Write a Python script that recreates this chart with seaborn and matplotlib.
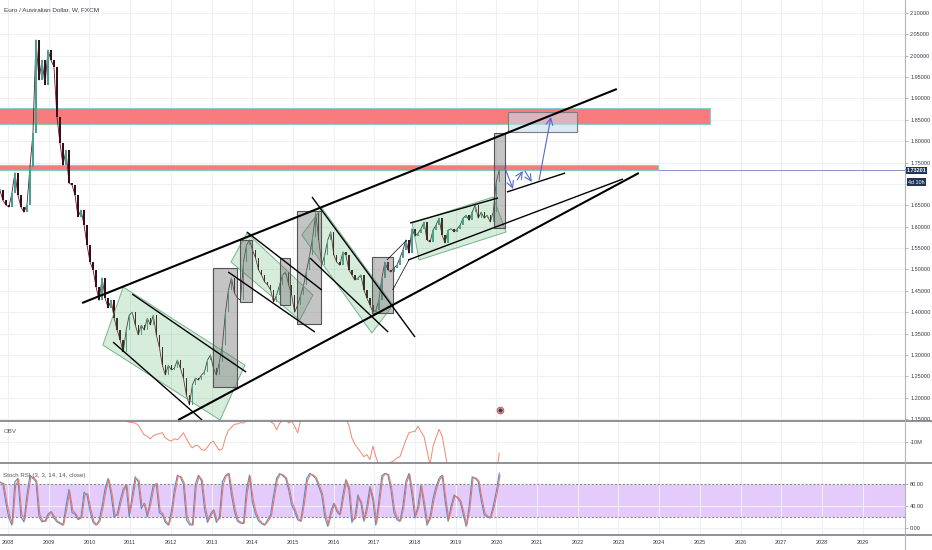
import numpy as np
import pandas as pd
import matplotlib
matplotlib.use("Agg")
import matplotlib.pyplot as plt
import seaborn as sns
from matplotlib.patches import Polygon, Rectangle
from matplotlib.lines import Line2D

start_date = "2007-10-20"
step_days = 27

close = [1.686, 1.662, 1.651, 1.646, 1.679, 1.726, 1.674, 1.646, 1.634, 1.651,
         1.740, 1.819, 2.037, 1.943, 1.990, 1.932, 2.013, 1.990, 1.974, 1.857,
         1.796, 1.744, 1.779, 1.702, 1.698, 1.674, 1.623, 1.639, 1.604, 1.557,
         1.517, 1.499, 1.459, 1.428, 1.480, 1.433, 1.410, 1.428, 1.386, 1.358,
         1.335, 1.307, 1.358, 1.393, 1.400, 1.370, 1.347, 1.370, 1.358, 1.386,
         1.370, 1.393, 1.347, 1.319, 1.276, 1.253, 1.276, 1.265, 1.269, 1.288,
         1.269, 1.246, 1.206, 1.183, 1.230, 1.246, 1.241, 1.253, 1.260, 1.288,
         1.300, 1.269, 1.253, 1.283, 1.323, 1.400, 1.452, 1.480, 1.445, 1.433,
         1.428, 1.517, 1.557, 1.569, 1.545, 1.527, 1.499, 1.487, 1.471, 1.464,
         1.452, 1.424, 1.440, 1.464, 1.487, 1.494, 1.464, 1.440, 1.400, 1.417,
         1.440, 1.464, 1.499, 1.534, 1.576, 1.632, 1.569, 1.510, 1.534, 1.569,
         1.588, 1.534, 1.517, 1.510, 1.541, 1.534, 1.499, 1.487, 1.475, 1.480,
         1.487, 1.452, 1.433, 1.417, 1.400, 1.405, 1.428, 1.480, 1.517, 1.499,
         1.494, 1.504, 1.510, 1.527, 1.545, 1.569, 1.538, 1.595, 1.578, 1.585,
         1.595, 1.611, 1.569, 1.564, 1.592, 1.604, 1.620, 1.580, 1.562, 1.592,
         1.595, 1.588, 1.595, 1.604, 1.620, 1.627, 1.615, 1.634, 1.651, 1.620,
         1.634, 1.620, 1.627, 1.611, 1.634, 1.705, 1.732]

# on balance volume, millions
obv = [-1.0, -1.2, -1.5, -1.1, -0.8, -0.5, -0.2, 0.5, 1.2, 1.5,
       2.0, 2.4, 3.0, 2.8, 2.5, 2.0, 1.5, 1.0, 0.4, -0.2,
       -0.5, -0.8, -1.0, -1.2, -1.5, -1.8, -2.0, -2.2, -2.5, -2.6,
       -2.8, -3.0, -3.1, -3.3, -3.5, -3.6, -3.8, -4.0, -4.1, -4.2,
       -4.3, -4.5, -5.0, -5.3, -5.4, -5.5, -6.0, -7.2, -8.3, -8.6,
       -9.3, -8.5, -8.2, -8.0, -7.8, -9.0, -9.5, -9.8, -9.2, -9.5,
       -8.8, -7.8, -9.2, -10.5, -11.4, -10.8, -10.9, -11.8, -12.0, -11.2,
       -10.2, -9.8, -11.0, -12.0, -11.6, -9.0, -7.2, -6.5, -5.8, -5.7,
       -5.4, -5.5, -5.0, -4.8, -4.5, -4.2, -4.6, -4.0, -4.3, -4.5,
       -5.2, -5.6, -7.1, -5.5, -5.0, -4.5, -5.5, -5.0, -6.3, -7.8,
       -4.8, -3.5, -3.0, -2.6, -2.2, -2.0, -1.8, -2.0, -2.2, -2.5,
       -2.8, -3.0, -3.2, -3.5, -4.0, -4.5, -6.0, -9.0, -10.5, -11.5,
       -12.5, -13.5, -13.0, -14.2, -11.0, -13.5, -15.5, -15.8, -15.6, -15.2,
       -14.8, -14.5, -13.8, -13.5, -11.5, -9.5, -7.8, -7.6, -7.5, -6.2,
       -7.6, -8.7, -12.0, -15.5, -11.0, -9.0, -7.0, -8.5, -12.5, -16.5,
       -17.0, -17.5, -18.0, -18.2, -18.5, -18.8, -19.0, -18.6, -18.4, -18.8,
       -19.0, -19.2, -19.0, -18.8, -18.5, -18.0, -12.6]

stoch_k = [84, 80, 45, 18, 5, 84, 90, 20, 11, 60,
           96, 90, 84, 20, 11, 13, 25, 30, 18, 11,
           8, 5, 40, 70, 28, 25, 15, 20, 65, 60,
           30, 10, 5, 14, 40, 72, 90, 60, 20, 25,
           50, 70, 78, 20, 60, 93, 84, 35, 45, 20,
           50, 78, 80, 28, 24, 10, 5, 30, 70, 96,
           92, 80, 15, 6, 5, 80, 96, 85, 35, 10,
           25, 33, 10, 20, 84, 95, 99, 60, 30, 12,
           9, 8, 70, 96, 45, 25, 13, 8, 5, 15,
           24, 60, 90, 99, 95, 90, 70, 42, 30, 15,
           12, 50, 90, 99, 95, 90, 75, 60, 20, 3,
           30, 45, 30, 24, 60, 88, 70, 10, 20, 60,
           45, 12, 40, 75, 50, 5, 50, 95, 99, 96,
           70, 28, 15, 12, 40, 85, 99, 60, 18, 40,
           78, 40, 5, 20, 54, 75, 90, 96, 50, 12,
           40, 60, 55, 48, 25, 3, 40, 93, 90, 84,
           50, 24, 20, 18, 40, 66, 100]

stoch_d = [82, 81, 50, 22, 8, 78, 88, 26, 14, 55,
           92, 92, 85, 25, 13, 12, 23, 29, 20, 12,
           9, 6, 35, 66, 32, 26, 16, 19, 60, 62,
           34, 12, 6, 12, 36, 68, 88, 64, 24, 23,
           46, 68, 78, 26, 55, 90, 86, 40, 43, 24,
           46, 75, 81, 32, 25, 12, 6, 27, 66, 94,
           93, 82, 20, 8, 6, 75, 94, 87, 40, 12,
           23, 32, 13, 18, 79, 94, 99, 64, 34, 14,
           10, 9, 64, 94, 50, 28, 15, 9, 6, 13,
           22, 55, 88, 98, 96, 91, 72, 46, 32, 17,
           13, 45, 86, 98, 96, 91, 77, 62, 25, 5,
           27, 44, 32, 25, 56, 86, 72, 14, 18, 56,
           47, 15, 36, 72, 53, 8, 46, 92, 99, 97,
           73, 32, 17, 13, 36, 82, 98, 64, 22, 37,
           75, 44, 8, 18, 50, 72, 88, 95, 54, 15,
           37, 58, 56, 49, 28, 5, 36, 90, 91, 85,
           54, 27, 21, 19, 37, 62, 96]

last_price = 1.73201
years = list(range(2008, 2030))
price_ticks = [1.15, 1.20, 1.25, 1.30, 1.35, 1.40, 1.45, 1.50, 1.55, 1.60,
               1.65, 1.70, 1.75, 1.80, 1.85, 1.90, 1.95, 2.00, 2.05, 2.10]
hidden_ticks = [1.70]  # covered by the countdown label on the price scale

# resistance zones: (year from, year to, low, high)
zones = [(2007.0, 2025.25, 1.8403, 1.8777),
         (2007.0, 2023.97, 1.7330, 1.7450)]

# trend lines: ((year, price), (year, price), width)
trend_lines = [((2009.82, 1.4215), (2022.96, 1.9222), 1.5),
               ((2012.18, 1.1477), (2023.50, 1.7256), 1.5),
               ((2017.83, 1.5221), (2023.11, 1.7116), 1.0),
               ((2020.26, 1.6812), (2021.69, 1.7256), 1.0),
               ((2017.88, 1.6087), (2020.04, 1.6672), 1.0),
               ((2015.47, 1.6695), (2018.00, 1.3419), 1.0),
               ((2015.42, 1.5268), (2017.34, 1.3536), 1.0),
               ((2013.87, 1.5876), (2015.71, 1.4519), 1.0),
               ((2013.41, 1.4940), (2015.54, 1.3536), 1.0),
               ((2011.05, 1.4425), (2013.85, 1.2600), 1.0),
               ((2010.58, 1.3302), (2012.77, 1.1477), 1.0),
               ((2017.31, 1.5221), (2017.80, 1.5689), 0.5),
               ((2017.45, 1.4520), (2017.85, 1.5220), 0.5)]

# channel boxes (parallelograms)
channels = [[(2010.33, 1.3232), (2010.83, 1.4589), (2013.82, 1.2764), (2013.21, 1.1477)],
            [(2013.48, 1.5174), (2013.87, 1.5853), (2015.49, 1.4402), (2015.17, 1.3817)],
            [(2015.22, 1.5806), (2015.71, 1.6438), (2017.46, 1.4168), (2016.94, 1.3513)],
            [(2017.93, 1.6087), (2019.92, 1.6695), (2020.24, 1.5876), (2018.10, 1.5221)]]

# grey boxes: (year0, year1, low, high)
boxes = [(2013.04, 2013.63, 1.2249, 1.5034),
         (2013.70, 2014.00, 1.4238, 1.5689),
         (2014.68, 2014.93, 1.4168, 1.5268),
         (2015.10, 2015.69, 1.3723, 1.6367),
         (2016.94, 2017.46, 1.3981, 1.5291),
         (2019.94, 2020.21, 1.5970, 1.8192)]
target_box = (2020.29, 2021.98, 1.8216, 1.8684)

# projected path arrows
arrows = [((2020.21, 1.7373), (2020.41, 1.6882)),
          ((2020.51, 1.7093), (2020.65, 1.7303)),
          ((2020.70, 1.7303), (2020.87, 1.7046)),
          ((2021.05, 1.7093), (2021.34, 1.8567))]


def year_axis(n, lag_days=0):
    d = pd.date_range(pd.Timestamp(start_date) + pd.Timedelta(days=lag_days),
                      periods=n, freq=f"{step_days}D")
    return np.asarray(d.year + (d.dayofyear - 1) / 365.25)


sns.set_theme(style="white")
plt.rcParams["font.family"] = ["Liberation Sans", "DejaVu Sans"]

grid_c = "#edf0f5"
txt_c = "#363a45"
sep_c = "#7b7e87"
lab_fs = 4.0

fig = plt.figure(figsize=(9.32, 5.5), dpi=100)
ax = fig.add_axes([0, 0.2345, 0.971, 0.7655])
ax_obv = fig.add_axes([0, 0.1582, 0.971, 0.0764], sharex=ax)
ax_rsi = fig.add_axes([0, 0.0273, 0.971, 0.1309], sharex=ax)

# ---- price panel ----
t = year_axis(len(close))
opens = np.array([close[0]] + close[:-1])
closes = np.array(close)
up = closes >= opens
width = step_days / 365.25 * 0.45
sns.lineplot(x=t, y=close, ax=ax, color="#5a1a28", lw=0.6, zorder=3)
ax.bar(t, np.maximum(np.abs(closes - opens), 0.002), bottom=np.minimum(opens, closes),
       width=width, color=np.where(up, "#3fa592", "#3d0c18"), linewidth=0, zorder=3)

ax.axhline(last_price, color="#7282b8", lw=0.6, zorder=1)
for x0, x1, lo, hi in zones:
    ax.add_patch(Rectangle((x0, lo), x1 - x0, hi - lo, fc="#f77b7d", ec="#86cfc6",
                           lw=0.8, zorder=2))

for poly in channels:
    ax.add_patch(Polygon(poly, closed=True, fc=(0.30, 0.69, 0.38, 0.22),
                         ec=(0.30, 0.62, 0.42, 0.75), lw=0.7, zorder=4))
for x0, x1, lo, hi in boxes:
    ax.add_patch(Rectangle((x0, lo), x1 - x0, hi - lo, fc=(0.45, 0.45, 0.45, 0.42),
                           ec="#555555", lw=0.8, zorder=4))
x0, x1, lo, hi = target_box
ax.add_patch(Rectangle((x0, lo), x1 - x0, hi - lo, fc=(0.78, 0.86, 0.92, 0.6),
                       ec="#7d7d7d", lw=0.8, zorder=4))

for (xa, ya), (xb, yb), lw in trend_lines:
    ax.plot([xa, xb], [ya, yb], color="black", lw=lw, solid_capstyle="butt", zorder=5)

for s, e in arrows:
    ax.annotate("", xy=e, xytext=s,
                arrowprops=dict(arrowstyle="->", color="#5468d4", lw=0.8,
                                shrinkA=0, shrinkB=0), zorder=6)

ax.scatter([2020.09], [1.171], s=22, facecolor="white", edgecolor="#d9534f",
           linewidth=0.8, zorder=6)
ax.scatter([2020.09], [1.171], s=5, color="#3d3d5c", zorder=7)

ax.set_xlim(2007.803, 2030.04)
ax.set_ylim(1.1454, 2.1304)
ax.set_xticks(years)
ax.set_yticks(price_ticks)
ax.set_yticklabels(["" if p in hidden_ticks else f"{p:.5f}" for p in price_ticks])
ax.yaxis.tick_right()
ax.set_xlabel("")
ax.set_ylabel("")
ax.grid(True, color=grid_c, lw=0.8)
ax.set_axisbelow(True)
ax.tick_params(axis="y", length=2.5, width=0.5, color="#9598a1", labelcolor=txt_c,
               labelsize=lab_fs, pad=1.2)
ax.tick_params(axis="x", length=0, labelbottom=False)
for sp in ax.spines.values():
    sp.set_visible(False)

ax.text(0.004, 0.976, "Euro / Australian Dollar, W, FXCM", transform=ax.transAxes,
        fontsize=4.6, color=txt_c, va="center", ha="left")

ax.annotate(f"{last_price:.5f}", xy=(1.0, last_price), xycoords=("axes fraction", "data"),
            xytext=(1.2, 0), textcoords="offset points", ha="left", va="center",
            fontsize=lab_fs, fontweight="bold", color="white", annotation_clip=False,
            bbox=dict(boxstyle="square,pad=0.2", fc="#1e3558", ec="none"), zorder=10)
ax.annotate("4d 10h", xy=(1.0, 1.7045), xycoords=("axes fraction", "data"),
            xytext=(2.5, 0), textcoords="offset points", ha="left", va="center",
            fontsize=3.9, color="white", annotation_clip=False,
            bbox=dict(boxstyle="square,pad=0.2", fc="#1e3558", ec="none"), zorder=10)

# ---- OBV panel ----
sns.lineplot(x=year_axis(len(obv)), y=obv, ax=ax_obv, color="#f2876b", lw=0.7)
ax_obv.set_ylim(-15, -5)
ax_obv.set_yticks([-10])
ax_obv.set_yticklabels(["-10M"])
ax_obv.yaxis.tick_right()
ax_obv.grid(True, color=grid_c, lw=0.8)
ax_obv.tick_params(axis="y", length=2.5, width=0.5, color="#9598a1", labelcolor=txt_c,
                   labelsize=lab_fs, pad=1.2)
ax_obv.tick_params(axis="x", length=0, labelbottom=False)
ax_obv.set_ylabel("")
for sp in ax_obv.spines.values():
    sp.set_visible(False)
ax_obv.text(0.004, 0.74, "OBV", transform=ax_obv.transAxes, fontsize=4.4,
            color="#555", va="center")

# ---- Stoch RSI panel ----
ax_rsi.axhspan(20, 80, color="#e4cbfb", lw=0, zorder=0)
for lvl in (80, 20):
    ax_rsi.axhline(lvl, color="#8a8a8a", lw=0.8, ls=(0, (2, 1.5)), zorder=1)
sns.lineplot(x=year_axis(len(stoch_k)), y=stoch_k, ax=ax_rsi, color="#4a8fe0", lw=0.8)
sns.lineplot(x=year_axis(len(stoch_d), 7), y=stoch_d, ax=ax_rsi, color="#f0765a", lw=0.8)
ax_rsi.set_ylim(-12.7, 118)
ax_rsi.set_yticks([0, 40, 80])
ax_rsi.set_yticklabels(["0.00", "40.00", "80.00"])
ax_rsi.yaxis.tick_right()
ax_rsi.set_xticks(years)
ax_rsi.set_xticklabels([str(y) for y in years])
ax_rsi.grid(True, color=grid_c, lw=0.8)
ax_rsi.set_axisbelow(True)
ax_rsi.tick_params(axis="y", length=2.5, width=0.5, color="#9598a1", labelcolor=txt_c,
                   labelsize=lab_fs, pad=1.2)
ax_rsi.tick_params(axis="x", length=2, width=0.5, color="#9598a1", labelcolor=txt_c,
                   labelsize=lab_fs, pad=1.5, labelbottom=True)
ax_rsi.set_ylabel("")
for sp in ax_rsi.spines.values():
    sp.set_visible(False)
ax_rsi.text(0.003, 0.833, "Stoch RSI (3, 3, 14, 14, close)", transform=ax_rsi.transAxes,
            fontsize=4.4, color="#555", va="center")

# panel separators and price scale border
for yy in (0.2345, 0.1582, 0.0273):
    fig.add_artist(Line2D([0, 1], [yy, yy], color=sep_c, lw=1.2, transform=fig.transFigure))
fig.add_artist(Line2D([0.971, 0.971], [0, 1], color="#b2b5be", lw=0.8,
                      transform=fig.transFigure))

fig.savefig("out.png", dpi=100, facecolor="white")
